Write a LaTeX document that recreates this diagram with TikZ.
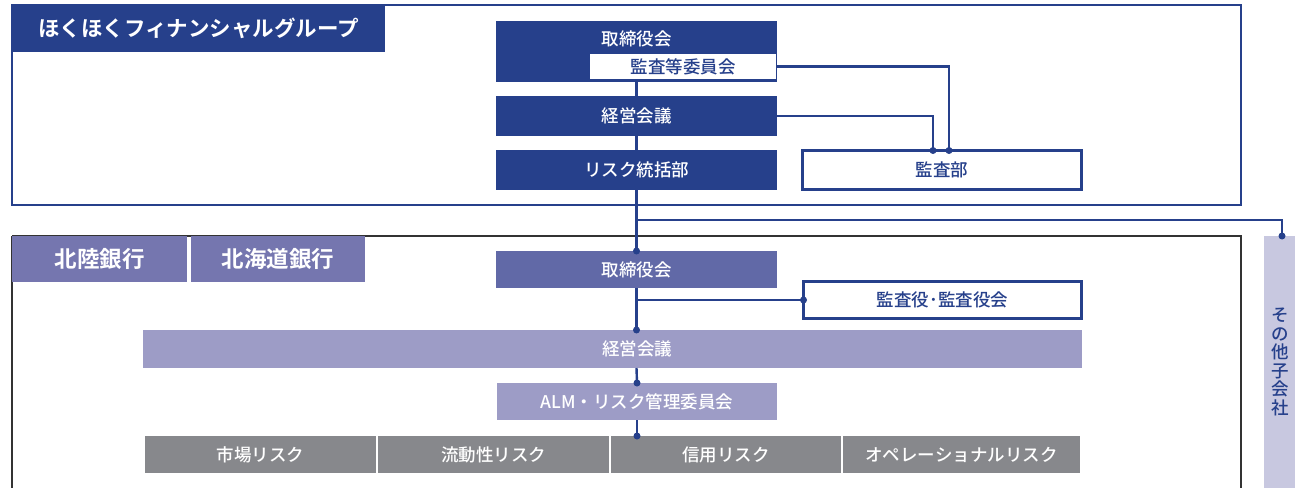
\documentclass[tikz,border=0pt]{standalone}
\usepackage{fontspec}
\setmainfont{Noto Sans CJK JP}[UprightFont=* Medium, BoldFont=* Bold]
\definecolor{dblue}{HTML}{26408B}
\definecolor{bboard}{HTML}{6169A7}
\definecolor{tabc}{HTML}{7576AF}
\definecolor{lav}{HTML}{9D9CC6}
\definecolor{greyc}{HTML}{87888C}
\definecolor{pale}{HTML}{C8C8E0}
\definecolor{frame}{HTML}{333333}
\tikzset{
  box/.style={rectangle, inner sep=0pt, outer sep=0pt, minimum width=#1},
  fillbox/.style={box=#1, text=white, font=\fontsize{17.5}{19}\selectfont},
  outbox/.style={box=#1, draw=dblue, line width=2.2pt, fill=white, text=dblue, font=\fontsize{17.5}{19}\selectfont},
  conn/.style={draw=dblue, line width=2.4pt},
  dot/.style={circle, fill=dblue, inner sep=0pt, minimum size=7pt},
  tabtxt/.style={text=white, font=\fontsize{21.5}{23}\selectfont\bfseries},
}
\begin{document}
\begin{tikzpicture}[x=1pt,y=-1pt]
\useasboundingbox (0,0) rectangle (1295,487);
% frames
\draw[dblue, line width=1.6pt] (12,5) rectangle (1241,205);
\draw[frame, line width=1.8pt] (12,236) -- (1241,236) -- (1241,495);
\draw[frame, line width=1.8pt] (12,236) -- (12,495);
% title
\node[box=373, minimum height=47, fill=dblue, tabtxt] (title) at (198.5,28.5) {ほくほくフィナンシャルグループ};
% group boxes
\node[fillbox=281, minimum height=60, fill=dblue] (tb) at (636.5,51.5) {};
\node[text=white, font=\fontsize{17.5}{19}\selectfont] (tbt) at (636.5,39) {取締役会};
\node[box=186, minimum height=25, fill=white, text=dblue, font=\fontsize{17.5}{19}\selectfont] (ac) at (683,66.5) {監査等委員会};
\node[fillbox=281, minimum height=40, fill=dblue] (mg) at (636.5,116) {経営会議};
\node[fillbox=281, minimum height=40, fill=dblue] (rk) at (636.5,170) {リスク統括部};
\node[outbox=279, minimum height=39] (au) at (942,170) {監査部};
% bank tabs
\node[box=175, minimum height=46, fill=tabc, tabtxt, font=\fontsize{22.5}{24}\selectfont\bfseries] (t1) at (99.5,259) {北陸銀行};
\node[box=174, minimum height=46, fill=tabc, tabtxt, font=\fontsize{22.5}{24}\selectfont\bfseries] (t2) at (278,259) {北海道銀行};
% bank boxes
\node[fillbox=281, minimum height=37, fill=bboard] (bb) at (636.5,269.5) {取締役会};
\node[outbox=278, minimum height=37] (ka) at (942.5,300) {監査役･監査役会};
\node[box=939, minimum height=38, fill=lav] (mg2) at (612.5,349) {};
\node[text=white, font=\fontsize{17.5}{19}\selectfont] (mg2t) at (637,349) {経営会議};
\node[fillbox=280, minimum height=37, fill=lav] (alm) at (637,401.5) {ALM・リスク管理委員会};
% risk row
\node[fillbox=231, minimum height=37, fill=greyc] (r1) at (260.5,454.5) {市場リスク};
\node[fillbox=231, minimum height=37, fill=greyc] (r2) at (493.5,454.5) {流動性リスク};
\node[fillbox=230, minimum height=37, fill=greyc] (r3) at (726,454.5) {信用リスク};
\node[fillbox=237, minimum height=37, fill=greyc] (r4) at (961.5,454.5) {オペレーショナルリスク};
% other subsidiaries
\node[box=31, minimum height=260, fill=pale, anchor=north] (ot) at (1279.5,236) {};
\node[text=dblue, align=center, font=\fontsize{17.5}{18.5}\selectfont, inner sep=0pt] (ott) at (1280,362) {そ\\の\\他\\子\\会\\社};
% connectors
\coordinate (c1) at (949,66.5);
\coordinate (c2) at (933,116);
\coordinate (br) at (637,220);
\coordinate (c3) at (1282,220);
\draw[conn] (tb.south) -- (mg.north);
\draw[conn] (mg.south) -- (rk.north);
\draw[conn] (ac.east) -- (c1) -- (c1 |- au.north) node[dot]{};
\draw[conn] (mg.east) -- (c2) -- (c2 |- au.north) node[dot]{};
\draw[conn] (rk.south) -- (bb.north) node[dot]{};
\draw[conn] (br) -- (c3) -- (c3 |- ot.north) node[dot]{};
\draw[conn] (bb.south) -- (bb.south |- mg2.north) node[dot]{};
\draw[conn] (bb.south |- ka.west) -- (ka.west) node[dot]{};
\draw[conn] (bb.south |- mg2.south) -- (alm.north) node[dot]{};
\draw[conn] (alm.south) -- (alm.south |- r3.north) node[dot]{};
\end{tikzpicture}
\end{document}
